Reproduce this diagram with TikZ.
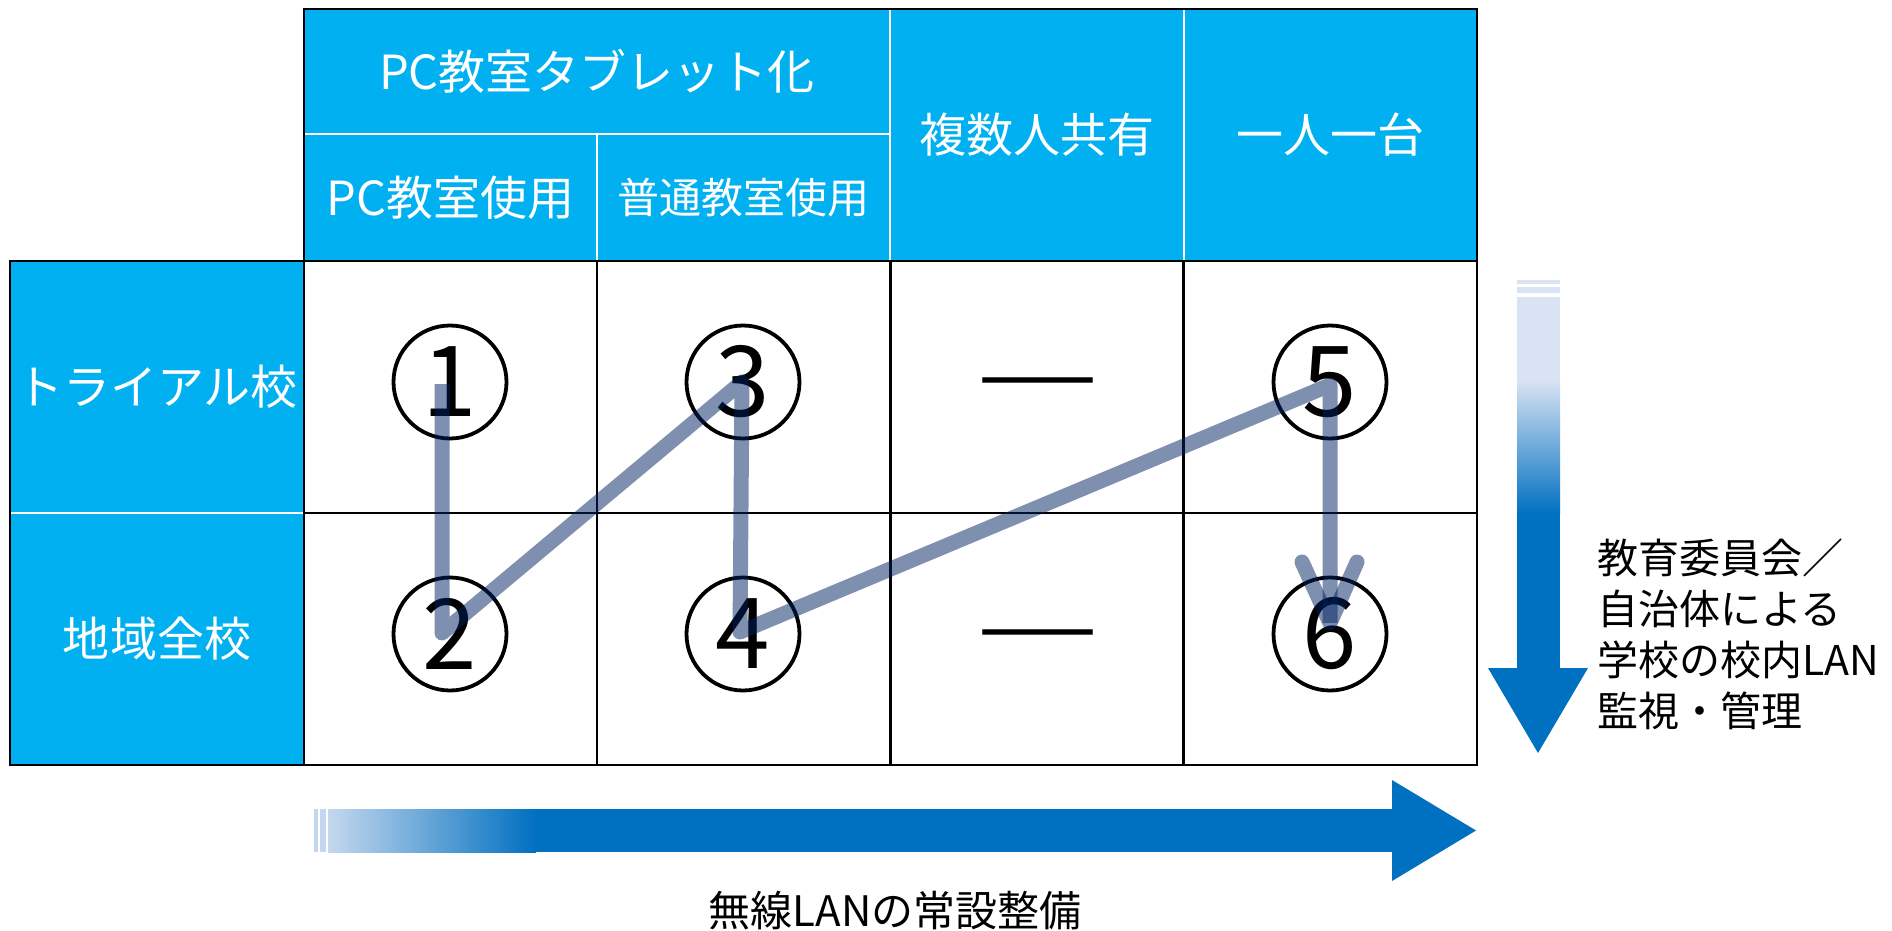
\documentclass[tikz,border=0pt]{standalone}
\usepackage{fontspec}
\setmainfont{Noto Sans CJK JP}
\usetikzlibrary{calc}
\definecolor{hdr}{HTML}{00B0F0}
\definecolor{arr}{HTML}{0070C0}
\definecolor{lite}{HTML}{DAE3F3}
\definecolor{navy}{RGB}{0,32,96}
\tikzset{
  hcell/.style={draw=white, line width=2bp, fill=hdr, text=white, inner sep=0pt, font=\fontsize{47bp}{56bp}\selectfont},
  bcell/.style={draw=black, line width=2.5bp, fill=white, inner sep=0pt},
  num/.style={circle, draw=black, line width=3.8bp, minimum size=113bp, inner sep=0pt, font=\fontsize{98bp}{110bp}\selectfont},
  dashtxt/.style={inner sep=0pt, font=\fontsize{129bp}{130bp}\selectfont},
  route/.style={draw=navy, draw opacity=0.5, line width=15bp, line join=round},
  routehead/.style={route, line cap=round},
  lbl/.style={inner sep=0pt, text=black}
}
\begin{document}
\begin{tikzpicture}[x=1bp,y=-1bp]
\useasboundingbox (0,0) rectangle (1892,931);
% header cells
\node[hcell, minimum width=586bp, minimum height=125bp] (h0) at (597,71.5) {PC教室タブレット化};
\node[hcell, minimum width=293bp, minimum height=127bp] (h1) at (450.5,197.5) {PC教室使用};
\node[hcell, minimum width=293bp, minimum height=127bp, font=\fontsize{42bp}{50bp}\selectfont] (h2) at (743.5,197.5) {普通教室使用};
\node[hcell, minimum width=294bp, minimum height=252bp] (h3) at (1037,135) {複数人共有};
\node[hcell, minimum width=293bp, minimum height=252bp] (h4) at (1330.5,135) {一人一台};
\draw[black, line width=2.5bp] (304,9) rectangle (1477,261);
% left column
\node[hcell, minimum width=294bp, minimum height=252bp] (l1) at (157,387) {トライアル校};
\node[hcell, minimum width=294bp, minimum height=252bp] (l2) at (157,639) {地域全校};
\draw[black, line width=2.5bp] (10,261) rectangle (304,765);
% body cells
\foreach \c/\x in {1/450.5,2/743.5,3/1037,4/1330.5}{
  \node[bcell, minimum width=293bp, minimum height=252bp] (b1\c) at (\x,387) {};
  \node[bcell, minimum width=293bp, minimum height=252bp] (b2\c) at (\x,639) {};
}
% circled numbers
\node[num] (c1) at (450,382) {1};
\node[num] (c2) at (450,634) {2};
\node[num] (c3) at (743,382) {3};
\node[num] (c4) at (743,634) {4};
\node[num] (c5) at (1330,382) {5};
\node[num] (c6) at (1330,634) {6};
\node[dashtxt] (d1) at (1037.5,404) {―};
\node[dashtxt] (d2) at (1037.5,656) {―};
% route
\coordinate (p1) at ($(c1)+(-8,2)$);
\coordinate (p2) at ($(c2)+(-8,-1)$);
\coordinate (p3) at ($(c3)+(-1,0)$);
\coordinate (p4) at ($(c4)+(-3,-2)$);
\coordinate (p5) at ($(c5)+(0,3)$);
\coordinate (p6) at ($(c6)+(0,-11)$);
\coordinate (hl) at ($(p6)+(-28,-61)$);
\coordinate (hr) at ($(p6)+(27,-61)$);
\draw[route] (p1) -- (p2) -- (p3) -- (p4) -- (p5) -- (p6);
\draw[routehead] (hl) -- (p6) -- (hr);
% vertical big arrow
\fill[lite] (1517,280) rectangle (1560,284);
\fill[lite] (1517,287) rectangle (1560,293);
\fill[lite] (1517,297) rectangle (1560,381);
\shade[top color=lite, bottom color=arr] (1517,380) rectangle (1560,514);
\fill[arr] (1517,513) rectangle (1560,669);
\fill[arr] (1488,668) -- (1588,668) -- (1538,753) -- cycle;
% horizontal big arrow
\fill[lite!90!arr] (313.5,809) rectangle (317.5,852);
\fill[lite!90!arr] (320,809) rectangle (326,852);
\shade[left color=lite!90!arr, right color=arr] (328,809) rectangle (536,852);
\fill[arr] (535,809) rectangle (1393,852);
\fill[arr] (1392,780) -- (1476,830.5) -- (1392,881) -- cycle;
% labels
\node[lbl, anchor=west, align=left, font=\fontsize{41bp}{51bp}\selectfont] (vl) at (1597,634) {教育委員会／\\自治体による\\学校の校内LAN\\監視・管理};
\node[lbl, font=\fontsize{42bp}{50bp}\selectfont] (hlab) at (895,911) {無線LANの常設整備};
\end{tikzpicture}
\end{document}
